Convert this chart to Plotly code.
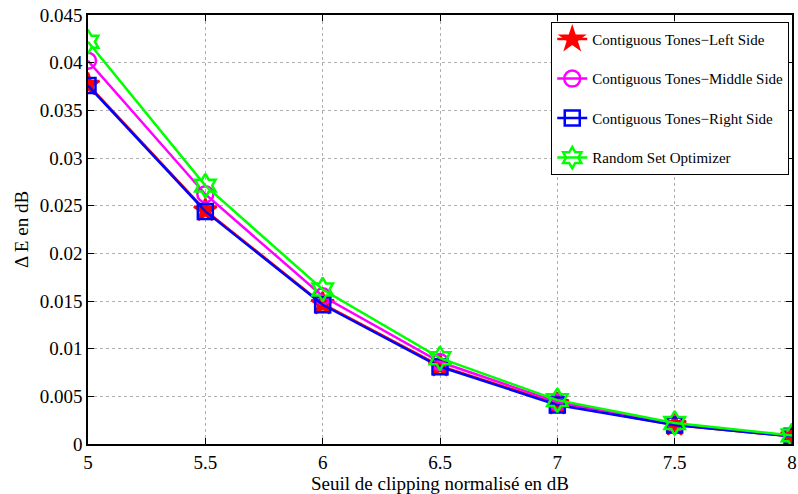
import plotly.graph_objects as go

x_vals = [5, 5.5, 6, 6.5, 7, 7.5, 8]
left_side = [0.0377, 0.0245, 0.0147, 0.0082, 0.0042, 0.0020, 0.0008]
middle_side = [0.0402, 0.0262, 0.0155, 0.0086, 0.0044, 0.0021, 0.0008]
right_side = [0.0376, 0.0244, 0.0146, 0.0081, 0.0041, 0.0020, 0.0008]
random_opt = [0.0422, 0.0271, 0.0162, 0.0090, 0.0046, 0.0022, 0.0009]

series_names = ["Contiguous Tones\u2212Left Side", "Contiguous Tones\u2212Middle Side",
                "Contiguous Tones\u2212Right Side", "Random Set Optimizer"]
y_ticks = [0, 0.005, 0.01, 0.015, 0.02, 0.025, 0.03, 0.035, 0.04, 0.045]
y_tick_text = ["0", "0.005", "0.01", "0.015", "0.02", "0.025", "0.03", "0.035", "0.04", "0.045"]
x_ticks = [5, 5.5, 6, 6.5, 7, 7.5, 8]
x_tick_text = ["5", "5.5", "6", "6.5", "7", "7.5", "8"]

styles = [
    dict(color="#ff0000", symbol="star", size=17),
    dict(color="#ff00ff", symbol="circle-open", size=16),
    dict(color="#0000ff", symbol="square-open", size=15),
    dict(color="#00ff00", symbol="hexagram-open", size=18),
]

fig = go.Figure()
for i, (name, ys) in enumerate(zip(series_names, [left_side, middle_side, right_side, random_opt])):
    s = styles[i]
    fig.add_trace(go.Scatter(
        x=x_vals, y=ys, name=name, mode="lines+markers",
        legendgroup=str(i),
        line=dict(color=s["color"], width=2.5),
        marker=dict(symbol=s["symbol"], size=s["size"], color=s["color"],
                    line=dict(color=s["color"], width=2.5)),
    ))

font_family = "Liberation Serif, Times New Roman, DejaVu Serif, serif"
fig.update_layout(
    width=798, height=494,
    margin=dict(l=88, r=6, t=15, b=50, autoexpand=False),
    paper_bgcolor="white", plot_bgcolor="white",
    font=dict(family=font_family, color="black", size=19),
    showlegend=True,
    legend=dict(x=0.658, y=0.984, xanchor="left", yanchor="top",
                bgcolor="white", bordercolor="black", borderwidth=1,
                font=dict(family=font_family, size=15, color="black"),
                tracegroupgap=17, itemwidth=30),
    xaxis=dict(range=[5, 8], tickvals=x_ticks, ticktext=x_tick_text,
               showgrid=True, gridcolor="#b0b0b0", griddash="dot", gridwidth=1,
               showline=True, linecolor="black", linewidth=1.5, mirror="ticks",
               ticks="inside", ticklen=6, tickcolor="black", zeroline=False,
               automargin=False, ticklabeloverflow="allow",
               title=dict(text="Seuil de clipping normalisé en dB", standoff=0,
                          font=dict(size=19, family=font_family)),
               tickfont=dict(size=19, family=font_family)),
    yaxis=dict(range=[0, 0.045], tickvals=y_ticks, ticktext=y_tick_text,
               showgrid=True, gridcolor="#b0b0b0", griddash="dot", gridwidth=1,
               showline=True, linecolor="black", linewidth=1.5, mirror="ticks",
               ticks="inside", ticklen=6, tickcolor="black", zeroline=False,
               automargin=False, ticklabeloverflow="allow",
               title=dict(text="\u0394 E en dB", standoff=6, font=dict(size=19, family=font_family)),
               tickfont=dict(size=19, family=font_family)),
)

fig.write_html("out.html", config={"displayModeBar": False},
               post_script="document.body.style.margin='0';")
